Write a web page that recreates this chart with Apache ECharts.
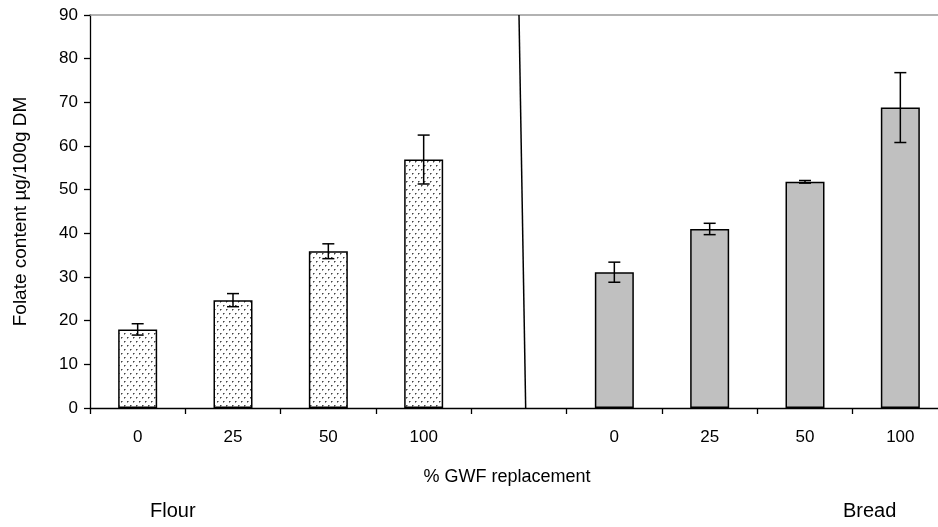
<!DOCTYPE html>
<html>
<head>
<meta charset="utf-8">
<script src="https://cdn.jsdelivr.net/npm/echarts@6/dist/echarts.min.js"></script>
<style>html,body{margin:0;padding:0;background:#fff}#c{width:938px;height:527px}</style>
</head>
<body>
<div id="c"></div>
<script>
// ---- data ----
var categories = ['0', '25', '50', '100', '', '0', '25', '50', '100'];
var flourValues = [18.0, 24.7, 35.9, 56.9];
var flourErrors = [1.3, 1.5, 1.7, 5.6];
var breadValues = [31.1, 41.0, 51.8, 68.8];
var breadErrors = [2.3, 1.3, 0.3, 8.0];
var yTicks = [0, 10, 20, 30, 40, 50, 60, 70, 80, 90];
var separatorX = [4.5, 4.57];   // position along the category axis (in category units)
var separatorY = [90, 0];
var groupLabels = ['Flour', 'Bread'];
var yAxisTitle = 'Folate content µg/100g DM';
var xAxisTitle = '% GWF replacement';

// dotted pattern for the flour bars
var tile = document.createElement('canvas');
tile.width = 6; tile.height = 8;
var tc = tile.getContext('2d');
tc.fillStyle = '#ffffff'; tc.fillRect(0, 0, 6, 8);
tc.fillStyle = '#444444';
tc.fillRect(1, 1, 1, 1); tc.fillRect(4, 5, 1, 1);
tc.fillStyle = '#999999';
tc.fillRect(2, 1, 1, 1); tc.fillRect(5, 5, 1, 1);
tc.fillRect(1, 2, 1, 1); tc.fillRect(4, 6, 1, 1);

var dotted = { image: tile, repeat: 'repeat' };

// build bar data and error data
var barData = [];
var errData = [];
for (var i = 0; i < flourValues.length; i++) {
  barData.push({ value: flourValues[i], itemStyle: { color: dotted } });
  errData.push([i, flourValues[i], flourErrors[i]]);
}
barData.push('-');
for (var j = 0; j < breadValues.length; j++) {
  barData.push({ value: breadValues[j], itemStyle: { color: '#c0c0c0' } });
  errData.push([flourValues.length + 1 + j, breadValues[j], breadErrors[j]]);
}

var font = 'Liberation Sans, Arial, sans-serif';
var chart = echarts.init(document.getElementById('c'), null, { renderer: 'canvas' });
chart.setOption({
  animation: false,
  backgroundColor: '#ffffff',
  grid: { left: 90, top: 15, right: -10, bottom: 119, containLabel: false, outerBoundsMode: 'none' },
  xAxis: [
    {
      type: 'category', data: categories, position: 'bottom',
      axisLine: { lineStyle: { color: '#000', width: 1.3 } },
      axisTick: { show: true, length: 6, inside: false, lineStyle: { color: '#000', width: 1.3 } },
      axisLabel: { color: '#000', fontSize: 17, fontFamily: font, margin: 21 },
      name: xAxisTitle, nameLocation: 'middle', nameGap: 60,
      nameTextStyle: { color: '#000', fontSize: 18, fontFamily: font, padding: [0, 24, 0, 0] },
      splitLine: { show: false }
    },
    {
      type: 'value', position: 'top', min: 0, max: 9,
      axisLine: { show: true, lineStyle: { color: '#999', width: 1.5 } },
      axisTick: { show: false }, axisLabel: { show: false }, splitLine: { show: false }
    },
    {
      type: 'value', position: 'bottom', min: 0, max: 9, show: false
    }
  ],
  yAxis: {
    type: 'value', min: yTicks[0], max: yTicks[yTicks.length - 1], interval: 10,
    axisLine: { show: true, lineStyle: { color: '#000', width: 1.3 } },
    axisTick: { show: true, length: 6, lineStyle: { color: '#000', width: 1.3 } },
    axisLabel: { color: '#000', fontSize: 17, fontFamily: font, margin: 12 },
    splitLine: { show: false },
    name: yAxisTitle, nameLocation: 'middle', nameGap: 60, nameRotate: 90,
    nameTextStyle: { color: '#000', fontSize: 19, fontFamily: font }
  },
  series: [
    {
      type: 'bar', xAxisIndex: 0, data: barData, barWidth: 39,
      itemStyle: { borderColor: '#000', borderWidth: 1.5 }
    },
    {
      type: 'custom', xAxisIndex: 0, data: errData, z: 5,
      renderItem: function (params, api) {
        var x = api.value(0), v = api.value(1), e = api.value(2);
        var top = api.coord([x, v + e]);
        var bot = api.coord([x, v - e]);
        var hw = 6;
        var st = { stroke: '#000', lineWidth: 1.5 };
        return {
          type: 'group',
          children: [
            { type: 'line', shape: { x1: top[0], y1: top[1], x2: bot[0], y2: bot[1] }, style: st },
            { type: 'line', shape: { x1: top[0] - hw, y1: top[1], x2: top[0] + hw, y2: top[1] }, style: st },
            { type: 'line', shape: { x1: bot[0] - hw, y1: bot[1], x2: bot[0] + hw, y2: bot[1] }, style: st }
          ]
        };
      }
    },
    {
      type: 'line', xAxisIndex: 2, symbol: 'none', z: 4,
      data: [[separatorX[0], separatorY[0]], [separatorX[1], separatorY[1]]],
      lineStyle: { color: '#000', width: 1.5 }
    }
  ],
  graphic: [
    { type: 'text', left: 150, top: 501, style: { text: groupLabels[0], fontSize: 20, fontFamily: font, fill: '#000' } },
    { type: 'text', left: 843, top: 501, style: { text: groupLabels[1], fontSize: 20, fontFamily: font, fill: '#000' } }
  ]
});
</script>
</body>
</html>
